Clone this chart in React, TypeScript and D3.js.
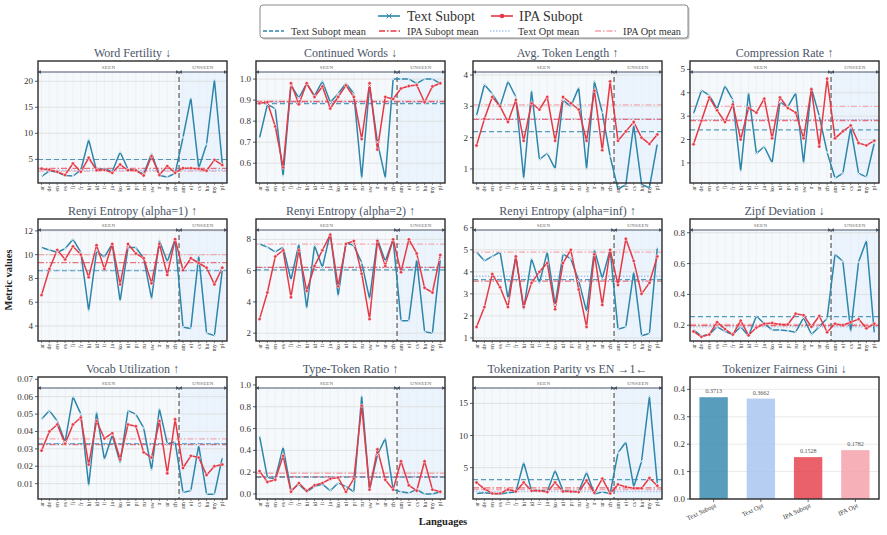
import React from 'react'
import * as d3 from 'd3'

// languages, seen ones first, then the unseen block
const seenLangs = ['ar', 'de', 'en', 'es', 'fi', 'fr', 'hi', 'id', 'it', 'ja', 'ko', 'nl', 'pt', 'ru', 'sw', 'tr', 'ur', 'zh']
const unseenLangs = ['am', 'el', 'cs', 'ha', 'my', 'pl']
const languages = [...seenLangs, ...unseenLangs]

const wordFertilityText = [1.7, 2.8, 2.5, 1.9, 1.8, 2.9, 8.8, 2.8, 3.3, 2.6, 6.4, 3.1, 2.8, 2.2, 6.1, 1.9, 1.6, 2.3, 9.2, 16.8, 3.3, 7.9, 20.3, 4.1]
const wordFertilityIpa = [3.2, 3.0, 2.6, 2.0, 4.2, 2.6, 5.3, 2.9, 3.0, 2.4, 4.0, 2.9, 2.9, 1.9, 5.6, 2.0, 3.7, 2.4, 3.3, 3.3, 3.2, 2.8, 4.9, 3.9]

const continuedText = [0.72, 0.88, 0.86, 0.54, 0.97, 0.91, 0.98, 0.92, 0.99, 0.89, 0.93, 0.98, 0.93, 0.53, 0.97, 0.70, 0.53, 1.0, 1.0, 1.0, 0.98, 1.0, 1.0, 0.98]
const continuedIpa = [0.885, 0.89, 0.775, 0.58, 0.98, 0.88, 0.98, 0.915, 0.965, 0.86, 0.915, 0.97, 0.915, 0.715, 0.98, 0.665, 0.915, 0.905, 0.955, 0.967, 0.972, 0.89, 0.965, 0.98]

const tokenLenText = [2.7, 3.7, 3.4, 3.0, 3.8, 3.3, 0.7, 3.5, 1.3, 1.5, 1.0, 3.2, 3.0, 3.6, 1.0, 3.8, 2.8, 1.4, 0.35, 0.5, 2.4, 0.5, 0.4, 1.8]
const tokenLenIpa = [1.75, 2.6, 3.3, 3.0, 2.5, 3.2, 1.9, 3.1, 2.9, 3.3, 1.9, 3.3, 3.1, 2.9, 1.9, 3.5, 1.6, 3.8, 1.9, 2.2, 2.5, 2.0, 1.8, 2.1]

const compressionText = [3.1, 4.1, 3.9, 3.3, 4.3, 3.7, 0.65, 4.0, 1.4, 1.7, 1.0, 3.6, 3.4, 4.0, 1.0, 4.2, 3.0, 1.45, 0.35, 0.55, 2.5, 0.55, 0.4, 1.85]
const compressionIpa = [1.8, 2.8, 3.8, 3.25, 2.75, 3.5, 2.0, 3.35, 3.15, 3.75, 2.05, 3.8, 3.35, 3.15, 2.05, 4.15, 1.7, 4.6, 2.05, 2.35, 2.6, 1.85, 1.75, 1.95]

const renyi1Text = [10.6, 10.4, 10.2, 10.5, 11.3, 10.2, 5.3, 10.3, 9.8, 10.9, 6.1, 10.6, 10.6, 9.7, 6.3, 11.2, 9.4, 11.3, 3.9, 3.8, 9.9, 3.4, 3.2, 8.7]
const renyi1Ipa = [6.6, 8.8, 10.4, 9.6, 10.7, 10.0, 8.1, 10.8, 8.8, 10.9, 7.5, 10.9, 10.1, 9.7, 7.6, 10.9, 8.3, 11.3, 8.7, 9.7, 9.3, 8.9, 7.5, 8.9]

const renyi2Text = [7.7, 7.5, 7.2, 7.5, 5.4, 7.7, 3.6, 7.6, 6.2, 8.4, 4.4, 7.8, 7.6, 6.5, 4.2, 8.0, 6.6, 8.0, 2.8, 2.8, 6.7, 2.1, 2.0, 6.7]
const renyi2Ipa = [2.9, 4.6, 6.9, 7.3, 4.3, 7.3, 4.7, 6.3, 7.3, 8.3, 5.0, 7.7, 7.9, 5.8, 2.9, 7.9, 6.3, 8.0, 5.9, 8.0, 7.1, 4.9, 4.6, 7.0]

const renyiInfText = [4.9, 4.5, 4.7, 4.9, 2.8, 4.7, 2.3, 4.6, 3.5, 4.9, 2.5, 4.8, 4.6, 3.6, 2.2, 5.0, 3.7, 5.0, 1.4, 1.5, 4.0, 1.1, 1.2, 5.1]
const renyiInfIpa = [1.5, 2.4, 3.9, 3.3, 2.4, 4.7, 2.4, 3.5, 4.0, 4.4, 2.3, 4.4, 5.0, 3.2, 1.5, 4.8, 2.5, 5.0, 3.4, 5.5, 4.5, 3.0, 3.5, 4.7]

const zipfText = [0.17, 0.13, 0.14, 0.19, 0.16, 0.14, 0.19, 0.13, 0.26, 0.21, 0.17, 0.17, 0.165, 0.155, 0.25, 0.14, 0.19, 0.245, 0.66, 0.615, 0.16, 0.61, 0.75, 0.15]
const zipfIpa = [0.16, 0.125, 0.14, 0.22, 0.175, 0.14, 0.23, 0.135, 0.185, 0.21, 0.215, 0.205, 0.205, 0.275, 0.265, 0.19, 0.26, 0.155, 0.21, 0.2, 0.22, 0.24, 0.18, 0.21]

const vocabText = [0.047, 0.052, 0.046, 0.034, 0.06, 0.05, 0.009, 0.051, 0.024, 0.038, 0.022, 0.052, 0.05, 0.042, 0.018, 0.053, 0.033, 0.034, 0.005, 0.006, 0.032, 0.004, 0.004, 0.025]
const vocabIpa = [0.029, 0.04, 0.044, 0.033, 0.044, 0.048, 0.021, 0.046, 0.036, 0.039, 0.024, 0.044, 0.043, 0.028, 0.025, 0.046, 0.016, 0.047, 0.019, 0.026, 0.025, 0.015, 0.02, 0.021]

const ttrText = [0.53, 0.15, 0.14, 0.43, 0.03, 0.09, 0.02, 0.07, 0.09, 0.03, 0.1, 0.07, 0.02, 0.9, 0.04, 0.36, 0.51, 0.04, 0.02, 0.01, 0.04, 0.0, 0.0, 0.02]
const ttrIpa = [0.21, 0.11, 0.13, 0.35, 0.02, 0.1, 0.03, 0.08, 0.1, 0.14, 0.15, 0.02, 0.14, 0.81, 0.04, 0.41, 0.13, 0.04, 0.3, 0.08, 0.03, 0.3, 0.04, 0.02]

const parityText = [1.0, 1.1, 1.0, 0.9, 1.1, 1.2, 5.8, 1.4, 1.5, 1.3, 4.6, 1.4, 1.3, 1.3, 4.3, 0.9, 1.2, 1.0, 7.3, 9.0, 2.0, 6.0, 16.1, 2.5]
const parityIpa = [2.7, 1.7, 1.0, 1.0, 1.6, 1.3, 2.7, 1.4, 1.4, 1.2, 2.7, 1.3, 1.3, 1.2, 3.0, 1.1, 3.3, 1.0, 2.4, 2.0, 1.8, 1.8, 3.4, 2.2]

// optimal-tokenizer means (only drawn as reference lines)
const textOptMeans = [2.9, 0.89, 2.6, 2.85, 8.7, 6.2, 3.8, 0.19, 0.033, 0.16, 1.3]
const ipaOptMeans = [2.75, 0.895, 3.05, 3.42, 10.0, 7.7, 4.9, 0.205, 0.0357, 0.19, 1.6]

const giniLabels = ['Text Subopt', 'Text Opt', 'IPA Subopt', 'IPA Opt']
const giniValues = [0.3713, 0.3662, 0.1528, 0.1782]

const BLUE = '#2e86ab'
const RED = '#e63946'
const LIGHT_BLUE = '#a9c5ef'
const PINK = '#f5a3ab'
const FONT = '"Liberation Serif", "DejaVu Serif", serif'

const panels = [
  { title: 'Word Fertility ↓', text: wordFertilityText, ipa: wordFertilityIpa, domain: [0.45, 23.9], ticks: [5, 10, 15, 20], fmt: 'd' },
  { title: 'Continued Words ↓', text: continuedText, ipa: continuedIpa, domain: [0.506, 1.086], ticks: [0.6, 0.7, 0.8, 0.9, 1.0], fmt: '.1f' },
  { title: 'Avg. Token Length ↑', text: tokenLenText, ipa: tokenLenIpa, domain: [0.55, 4.45], ticks: [1, 2, 3, 4], fmt: 'd' },
  { title: 'Compression Rate ↑', text: compressionText, ipa: compressionIpa, domain: [0.14, 5.36], ticks: [1, 2, 3, 4, 5], fmt: 'd' },
  { title: 'Renyi Entropy (alpha=1) ↑', text: renyi1Text, ipa: renyi1Ipa, domain: [2.74, 13.0], ticks: [4, 6, 8, 10, 12], fmt: 'd' },
  { title: 'Renyi Entropy (alpha=2) ↑', text: renyi2Text, ipa: renyi2Ipa, domain: [1.5, 9.3], ticks: [2, 4, 6, 8], fmt: 'd' },
  { title: 'Renyi Entropy (alpha=inf) ↑', text: renyiInfText, ipa: renyiInfIpa, domain: [0.86, 6.4], ticks: [1, 2, 3, 4, 5, 6], fmt: 'd' },
  { title: 'Zipf Deviation ↓', text: zipfText, ipa: zipfIpa, domain: [0.098, 0.889], ticks: [0.2, 0.4, 0.6, 0.8], fmt: '.1f' },
  { title: 'Vocab Utilization ↑', text: vocabText, ipa: vocabIpa, domain: [0.0012, 0.0713], ticks: [0.01, 0.02, 0.03, 0.04, 0.05, 0.06, 0.07], fmt: '.2f' },
  { title: 'Type-Token Ratio ↑', text: ttrText, ipa: ttrIpa, domain: [-0.046, 1.073], ticks: [0, 0.2, 0.4, 0.6, 0.8, 1.0], fmt: '.1f' },
  { title: 'Tokenization Parity vs EN →1←', text: parityText, ipa: parityIpa, domain: [0.13, 19.1], ticks: [5, 10, 15], fmt: 'd' },
]

const colX = [38, 256, 473, 690]
const rowY = [61, 219, 377]
const PW = 189
const PH = 122

function Frame({ left, top }: { left: number; top: number }) {
  return <rect x={left} y={top} width={PW} height={PH} fill="none" stroke="#2b2b2b" strokeWidth={1.4} />
}

function YAxis({ y, ticks, fmt, left }: any) {
  const f = d3.format(fmt)
  return (
    <g>
      {ticks.map((t: number) => (
        <g key={t} transform={`translate(${left},${y(t)})`}>
          <line x1={-3} x2={0} stroke="#333" strokeWidth={0.8} />
          <text x={-5} dy="0.33em" textAnchor="end" fontSize={9} fill="#333" fontFamily={FONT}>{f(t)}</text>
        </g>
      ))}
    </g>
  )
}

function LinePanel({ p, idx }: { p: any; idx: number }) {
  const left = colX[idx % 4]
  const top = rowY[Math.floor(idx / 4)]
  const bottom = top + PH
  const right = left + PW
  const x = d3.scaleLinear().domain([-0.45, languages.length - 0.4]).range([left, right])
  const y = d3.scaleLinear().domain(p.domain).range([bottom, top])
  const boundary = x(seenLangs.length - 0.5)
  const arrowY = top + 11
  const line = d3.line<number>().x((_, i) => x(i)).y(d => y(d))
  const textMean = d3.mean(p.text as number[]) as number
  const ipaMean = d3.mean(p.ipa as number[]) as number
  const clip = `clip${idx}`

  return (
    <g>
      <defs>
        <clipPath id={clip}><rect x={left} y={top} width={PW} height={PH} /></clipPath>
      </defs>
      <rect x={left} y={arrowY} width={boundary - left} height={bottom - arrowY} fill="#f6f9fb" />
      <rect x={boundary} y={arrowY} width={right - boundary} height={bottom - arrowY} fill="#ebf4fd" />
      {languages.map((_, i) => (
        <line key={i} x1={x(i)} x2={x(i)} y1={top} y2={bottom} stroke="#e9edf1" strokeWidth={0.6} />
      ))}
      {p.ticks.map((t: number) => (
        <line key={t} x1={left} x2={right} y1={y(t)} y2={y(t)} stroke="#dcdcdc" strokeWidth={0.8} />
      ))}
      <g clipPath={`url(#${clip})`}>
        <line x1={left} x2={right} y1={y(ipaOptMeans[idx])} y2={y(ipaOptMeans[idx])} stroke={PINK} strokeWidth={1.3} strokeDasharray="6,2,1.5,2" opacity={0.9} />
        <line x1={left} x2={right} y1={y(textOptMeans[idx])} y2={y(textOptMeans[idx])} stroke={LIGHT_BLUE} strokeWidth={1.3} strokeDasharray="1.5,1.5" />
        <line x1={left} x2={right} y1={y(ipaMean)} y2={y(ipaMean)} stroke={RED} strokeWidth={1.3} strokeDasharray="6,2,1.5,2" opacity={0.7} />
        <line x1={left} x2={right} y1={y(textMean)} y2={y(textMean)} stroke={BLUE} strokeWidth={1.2} strokeDasharray="5,3" opacity={0.8} />
      </g>
      <line x1={boundary} x2={boundary} y1={top} y2={bottom} stroke="#7a7a7a" strokeWidth={1.5} strokeDasharray="5,3" />
      <path d={line(p.text) || ''} fill="none" stroke={BLUE} strokeWidth={1.5} strokeLinejoin="round" />
      <path d={line(p.ipa) || ''} fill="none" stroke={RED} strokeWidth={1.5} strokeLinejoin="round" />
      {(p.text as number[]).map((d, i) => (
        <path key={'t' + i} d={`M${x(i) - 1.6},${y(d) - 1.6}L${x(i) + 1.6},${y(d) + 1.6}M${x(i) - 1.6},${y(d) + 1.6}L${x(i) + 1.6},${y(d) - 1.6}`} stroke="#eaf5fb" strokeWidth={0.8} />
      ))}
      {(p.ipa as number[]).map((d, i) => (
        <circle key={'i' + i} cx={x(i)} cy={y(d)} r={1.7} fill={RED} stroke="#fff" strokeWidth={0.5} />
      ))}
      {/* seen / unseen span arrows */}
      <rect x={left} y={top} width={PW} height={arrowY - top} fill="#fff" />
      <line x1={left + 1} x2={boundary - 1} y1={arrowY} y2={arrowY} stroke="#4a5568" strokeWidth={1.1} markerStart="url(#ah)" markerEnd="url(#ah)" />
      <line x1={boundary + 1} x2={right - 1} y1={arrowY} y2={arrowY} stroke="#4a5568" strokeWidth={1.1} markerStart="url(#ah)" markerEnd="url(#ah)" />
      <text x={(left + boundary) / 2} y={arrowY - 3} textAnchor="middle" fontSize={5} fill="#666" fontFamily={FONT} letterSpacing={0.3}>SEEN</text>
      <text x={(boundary + right) / 2} y={arrowY - 3} textAnchor="middle" fontSize={5} fill="#666" fontFamily={FONT} letterSpacing={0.3}>UNSEEN</text>
      <Frame left={left} top={top} />
      <YAxis y={y} ticks={p.ticks} fmt={p.fmt} left={left} />
      {languages.map((l, i) => (
        <g key={l} transform={`translate(${x(i)},${bottom})`}>
          <line y1={0} y2={2} stroke="#333" strokeWidth={0.6} />
          <text transform="translate(0,3) rotate(-90)" textAnchor="end" dy="0.35em" fontSize={5.8} fill="#444" fontFamily={FONT}>{l}</text>
        </g>
      ))}
      <text x={(left + right) / 2} y={top - 4} textAnchor="middle" fontSize={12} fill="#4a5568" fontFamily={FONT}>{p.title}</text>
    </g>
  )
}

function GiniPanel() {
  const left = colX[3]
  const top = rowY[2]
  const bottom = top + PH
  const right = left + PW
  const x = d3.scaleBand().domain(giniLabels).range([left, right]).paddingInner(0.4).paddingOuter(0.2)
  const y = d3.scaleLinear().domain([0, 0.445]).range([bottom, top])
  const colors = ['rgba(46,134,171,0.8)', 'rgba(169,197,239,0.85)', 'rgba(230,57,70,0.8)', 'rgba(245,163,171,0.85)']
  const ticks = [0, 0.1, 0.2, 0.3, 0.4]
  return (
    <g>
      {ticks.map(t => (
        <line key={t} x1={left} x2={right} y1={y(t)} y2={y(t)} stroke="#e4e4e4" strokeWidth={0.8} />
      ))}
      {giniValues.map((v, i) => (
        <g key={i}>
          <rect x={x(giniLabels[i])} y={y(v)} width={x.bandwidth()} height={bottom - y(v)} fill={colors[i]} />
          <text x={(x(giniLabels[i]) as number) + x.bandwidth() / 2} y={y(v) - 4} textAnchor="middle" fontSize={6} fill="#555" fontFamily={FONT}>{v.toFixed(4)}</text>
        </g>
      ))}
      <Frame left={left} top={top} />
      <YAxis y={y} ticks={ticks} fmt=".1f" left={left} />
      {giniLabels.map(l => {
        const cx = (x(l) as number) + x.bandwidth() / 2
        return (
          <g key={l} transform={`translate(${cx},${bottom})`}>
            <line y1={0} y2={3} stroke="#333" strokeWidth={0.7} />
            <text transform="translate(2,6) rotate(-25)" textAnchor="end" dy="0.35em" fontSize={6.5} fill="#333" fontFamily={FONT}>{l}</text>
          </g>
        )
      })}
      <text x={(left + right) / 2} y={top - 4} textAnchor="middle" fontSize={12} fill="#4a5568" fontFamily={FONT}>Tokenizer Fairness Gini ↓</text>
    </g>
  )
}

function Legend() {
  const row2 = [
    { label: 'Text Subopt mean', color: BLUE, dash: '4,2', x: 263 },
    { label: 'IPA Subopt mean', color: RED, dash: '6,2,1.5,2', x: 379 },
    { label: 'Text Opt mean', color: LIGHT_BLUE, dash: '1.5,1.5', x: 490 },
    { label: 'IPA Opt mean', color: PINK, dash: '6,2,1.5,2', x: 595 },
  ]
  return (
    <g fontFamily={FONT}>
      <rect x={261.5} y={6.5} width={428} height={33} rx={3} fill="#c4c4c4" />
      <rect x={260} y={5} width={428} height={33} rx={3} fill="#fff" stroke="#8a8a8a" strokeWidth={1} />
      <line x1={378} x2={400} y1={16} y2={16} stroke={BLUE} strokeWidth={1.6} />
      <path d="M386.5,13.5L391.5,18.5M386.5,18.5L391.5,13.5" stroke={BLUE} strokeWidth={1} />
      <text x={407} y={16} dy="0.35em" fontSize={14} fill="#333">Text Subopt</text>
      <line x1={491} x2={513} y1={16} y2={16} stroke={RED} strokeWidth={1.6} />
      <circle cx={502} cy={16} r={2.3} fill={RED} />
      <text x={519} y={16} dy="0.35em" fontSize={14} fill="#333">IPA Subopt</text>
      {row2.map(r => (
        <g key={r.label}>
          <line x1={r.x} x2={r.x + 21} y1={31} y2={31} stroke={r.color} strokeWidth={1.3} strokeDasharray={r.dash} />
          <text x={r.x + 28} y={31} dy="0.35em" fontSize={10.3} fill="#333">{r.label}</text>
        </g>
      ))}
    </g>
  )
}

export default function App() {
  return (
    <svg width={887} height={535} style={{ position: 'absolute', left: 0, top: 0, background: '#fff' }}>
      <defs>
        <marker id="ah" viewBox="0 0 10 10" refX="5" refY="5" markerWidth={4} markerHeight={4} orient="auto-start-reverse">
          <path d="M0,1L10,5L0,9z" fill="#4a5568" />
        </marker>
      </defs>
      <rect width={887} height={535} fill="#fff" />
      <Legend />
      {panels.map((p, i) => <LinePanel key={i} p={p} idx={i} />)}
      <GiniPanel />
      <text x={443} y={525} textAnchor="middle" fontSize={10.5} fontWeight="bold" fill="#222" fontFamily={FONT}>Languages</text>
      <text transform="translate(12,280) rotate(-90)" textAnchor="middle" fontSize={10.5} fontWeight="bold" fill="#222" fontFamily={FONT}>Metric values</text>
    </svg>
  )
}
